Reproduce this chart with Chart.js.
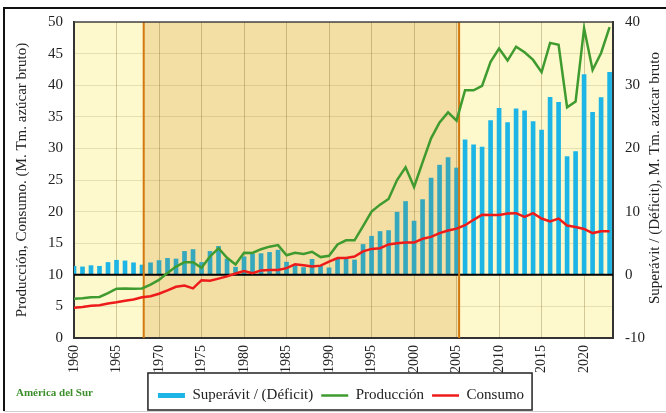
<!DOCTYPE html>
<html>
<head>
<meta charset="utf-8">
<script src="https://cdn.jsdelivr.net/npm/chart.js@4.4.0/dist/chart.umd.min.js"></script>
<style>
  html, body { margin: 0; padding: 0; background: #fff; }
  #wrap { position: relative; width: 666px; height: 413px; }
</style>
</head>
<body>
<div id="wrap"><canvas id="chart" width="666" height="413"></canvas></div>
<script>
// América del Sur – producción, consumo y superávit de azúcar (M. Tm.)
const years = [
  1960, 1961, 1962, 1963, 1964, 1965, 1966, 1967, 1968, 1969,
  1970, 1971, 1972, 1973, 1974, 1975, 1976, 1977, 1978, 1979,
  1980, 1981, 1982, 1983, 1984, 1985, 1986, 1987, 1988, 1989,
  1990, 1991, 1992, 1993, 1994, 1995, 1996, 1997, 1998, 1999,
  2000, 2001, 2002, 2003, 2004, 2005, 2006, 2007, 2008, 2009,
  2010, 2011, 2012, 2013, 2014, 2015, 2016, 2017, 2018, 2019,
  2020, 2021, 2022, 2023,
];
const produccion = [
  6.2, 6.3, 6.45, 6.5, 7.1, 7.8, 7.85, 7.8, 7.85, 8.45,
  9.2, 10.3, 11.3, 12.0, 12.0, 11.1, 12.9, 14.2, 12.7, 11.65,
  13.5, 13.45, 14.05, 14.45, 14.7, 13.1, 13.5, 13.3, 13.65, 12.8,
  13.0, 14.8, 15.45, 15.45, 17.7, 20.0, 21.1, 22.0, 25.0, 27.0,
  23.9, 27.8, 31.6, 34.1, 35.7, 34.4, 39.2, 39.2, 39.9, 43.7,
  45.8, 43.9, 46.1, 45.2, 44.0, 42.05, 46.7, 46.4, 36.5, 37.4,
  49.0, 42.4, 45.1, 49.2,
];
const consumo = [
  4.8, 4.9, 5.1, 5.2, 5.45, 5.65, 5.9, 6.1, 6.45, 6.6,
  7.0, 7.55, 8.1, 8.3, 7.85, 9.15, 9.05, 9.4, 9.75, 10.2,
  10.6, 10.25, 10.7, 10.75, 10.75, 11.05, 11.65, 11.5, 11.3, 11.45,
  12.1, 12.65, 12.65, 12.9, 13.7, 14.1, 14.2, 14.8, 15.0, 15.1,
  15.1, 15.7, 16.0, 16.6, 17.0, 17.3, 17.85, 18.7, 19.5, 19.45,
  19.45, 19.7, 19.75, 19.15, 19.75, 18.9, 18.45, 18.9, 17.8, 17.55,
  17.25, 16.6, 16.9, 16.9,
];
const superavit = [
  1.35, 1.25, 1.45, 1.35, 1.95, 2.3, 2.2, 1.9, 1.55, 1.9,
  2.25, 2.6, 2.5, 3.7, 4.0, 1.95, 3.7, 4.5, 2.5, 1.2,
  2.85, 3.25, 3.35, 3.55, 3.9, 2.0, 1.5, 1.15, 2.45, 1.35,
  1.1, 2.45, 2.5, 2.35, 4.8, 6.1, 6.85, 7.0, 9.9, 11.6,
  8.5, 11.9, 15.3, 17.35, 18.55, 16.9, 21.35, 20.55, 20.2, 24.4,
  26.35, 24.1, 26.25, 25.95, 24.25, 22.9, 28.1, 27.3, 18.7, 19.5,
  31.7, 25.7, 28.05, 32.05,
];
const xTicks = [1960, 1965, 1970, 1975, 1980, 1985, 1990, 1995, 2000, 2005, 2010, 2015, 2020];
const periodBreaks = [1968.2, 2005.3];  // tramo sombreado

const SERIF = '"Liberation Serif", "Times New Roman", serif';
Chart.defaults.font.family = SERIF;

const CYAN = '#1db5e5';
const TEAL = '#36a8bd';
const barColors = years.map((y) => (y > periodBreaks[0] && y < periodBreaks[1] ? TEAL : CYAN));

const toPoints = (vals) => years.map((x, i) => ({ x, y: vals[i] }));

const decorPlugin = {
  id: 'decor',
  beforeDraw(chart) {
    const { ctx, chartArea: a, scales } = chart;
    ctx.save();
    ctx.fillStyle = '#fff';
    ctx.fillRect(0, 0, chart.width, chart.height);
    // plot background
    ctx.fillStyle = '#fef9cc';
    ctx.fillRect(a.left, a.top, a.width, a.height);
    const x0 = scales.x.getPixelForValue(periodBreaks[0]);
    const x1 = scales.x.getPixelForValue(periodBreaks[1]);
    ctx.fillStyle = '#f3dea3';
    ctx.fillRect(x0, a.top, x1 - x0, a.height);
    // outer frame
    ctx.strokeStyle = '#111';
    ctx.lineWidth = 2;
    ctx.beginPath();
    ctx.moveTo(666, 8);
    ctx.lineTo(4, 8);
    ctx.lineTo(4, 411);
    ctx.stroke();
    ctx.strokeStyle = '#d0d0d0';
    ctx.lineWidth = 1;
    ctx.beginPath();
    ctx.moveTo(4, 411.5);
    ctx.lineTo(666, 411.5);
    ctx.stroke();
    ctx.restore();
  },
  afterDatasetDraw(chart, args) {
    if (args.meta.type !== 'bar') return;
    const { ctx, chartArea: a, scales } = chart;
    ctx.save();
    // linea de cero del superávit
    const y0 = scales.y1.getPixelForValue(0);
    ctx.strokeStyle = '#000';
    ctx.lineWidth = 2;
    ctx.beginPath();
    ctx.moveTo(a.left, y0);
    ctx.lineTo(a.right, y0);
    ctx.stroke();
    // lineas naranjas de los periodos
    ctx.strokeStyle = '#d2780f';
    ctx.lineWidth = 2;
    periodBreaks.forEach((b) => {
      const x = scales.x.getPixelForValue(b);
      ctx.beginPath();
      ctx.moveTo(x, a.top);
      ctx.lineTo(x, a.bottom);
      ctx.stroke();
    });
    ctx.restore();
  },
  afterDraw(chart) {
    const { ctx, chartArea: a } = chart;
    ctx.save();
    // marco del área de gráfico
    ctx.strokeStyle = '#444';
    ctx.lineWidth = 1.5;
    ctx.beginPath();
    ctx.moveTo(a.left, a.top);
    ctx.lineTo(a.right, a.top);
    ctx.stroke();

    // títulos de los ejes
    ctx.fillStyle = '#222';
    ctx.font = '15px ' + SERIF;
    ctx.textAlign = 'center';
    ctx.textBaseline = 'middle';
    ctx.save();
    ctx.translate(22, 180);
    ctx.rotate(-Math.PI / 2);
    ctx.fillText('Producción, Consumo. (M. Tm. azúcar bruto)', 0, 0);
    ctx.restore();
    ctx.save();
    ctx.translate(655, 178);
    ctx.rotate(-Math.PI / 2);
    ctx.fillText('Superávit / (Déficit), M. Tm. azúcar bruto', 0, 0);
    ctx.restore();

    // región
    ctx.fillStyle = '#3a8f2a';
    ctx.font = 'bold 11px ' + SERIF;
    ctx.textAlign = 'left';
    ctx.fillText('América del Sur', 16, 393);

    // recuadro de la leyenda
    const hb = chart.legend.legendHitBoxes;
    if (hb && hb.length) {
      const l = Math.min(...hb.map((h) => h.left)) - 10;
      const r = Math.max(...hb.map((h) => h.left + h.width)) + 8;
      const t = hb[0].top - 15;
      const b = hb[0].top + hb[0].height + 7;
      ctx.strokeStyle = '#222';
      ctx.lineWidth = 1.5;
      ctx.strokeRect(l, t, r - l, b - t);
    }
    ctx.restore();
  },
};

new Chart(document.getElementById('chart'), {
  type: 'bar',
  data: {
    datasets: [
      {
        type: 'bar',
        label: 'Superávit / (Déficit)',
        data: toPoints(superavit),
        yAxisID: 'y1',
        backgroundColor: barColors,
        legendColor: CYAN,
        barThickness: 4,
        borderWidth: 0,
        order: 3,
      },
      {
        type: 'line',
        label: 'Producción',
        data: toPoints(produccion),
        yAxisID: 'y',
        borderColor: '#3f9b2f',
        legendColor: '#3f9b2f',
        borderWidth: 2.5,
        pointRadius: 0,
        tension: 0,
        order: 2,
      },
      {
        type: 'line',
        label: 'Consumo',
        data: toPoints(consumo),
        yAxisID: 'y',
        borderColor: '#ee1b1b',
        legendColor: '#ee1b1b',
        borderWidth: 2.5,
        pointRadius: 0,
        tension: 0,
        order: 1,
      },
    ],
  },
  options: {
    responsive: false,
    animation: false,
    devicePixelRatio: 1,
    layout: { padding: { top: 22, left: 16, right: 0, bottom: 0 } },
    plugins: {
      tooltip: { enabled: false },
      legend: {
        position: 'bottom',
        labels: {
          usePointStyle: true,
          pointStyleWidth: 27,
          boxHeight: 5,
          padding: 8,
          color: '#222',
          font: { size: 15, family: SERIF },
          generateLabels: (chart) => chart.data.datasets.map((d, i) => ({
            text: d.label,
            fillStyle: d.legendColor,
            strokeStyle: d.legendColor,
            lineWidth: d.type === 'line' ? 2.5 : 0,
            pointStyle: d.type === 'line' ? 'line' : 'rect',
            datasetIndex: i,
            hidden: false,
            fontColor: '#222',
          })),
        },
      },
    },
    scales: {
      x: {
        type: 'linear',
        offset: false,
        min: 1960,
        max: 2023.4,
        afterBuildTicks: (s) => { s.ticks = xTicks.map((v) => ({ value: v })); },
        afterFit: (s) => { s.height = 413 - s.chart.legend.height - 338; },
        grid: { offset: false, color: 'rgba(120,95,40,0.32)', drawTicks: false, lineWidth: 1 },
        border: { display: true, color: '#333', width: 2 },
        ticks: {
          autoSkip: false,
          maxRotation: 90,
          minRotation: 90,
          padding: 7,
          color: '#222',
          font: { size: 14 },
          callback: (v) => String(v),
        },
      },
      y: {
        position: 'left',
        min: 0,
        max: 50,
        afterFit: (s) => { s.width = 58; },
        grid: { color: 'rgba(140,120,60,0.2)', drawTicks: false },
        border: { display: true, color: '#333', width: 2 },
        ticks: { stepSize: 5, padding: 11, color: '#222', font: { size: 15 } },
      },
      y1: {
        position: 'right',
        min: -10,
        max: 40,
        afterFit: (s) => { s.width = 53; },
        grid: { drawOnChartArea: false, drawTicks: false },
        border: { display: true, color: '#333', width: 2 },
        ticks: { stepSize: 10, padding: 12, color: '#222', font: { size: 15 } },
      },
    },
  },
  plugins: [decorPlugin],
});
</script>
</body>
</html>
